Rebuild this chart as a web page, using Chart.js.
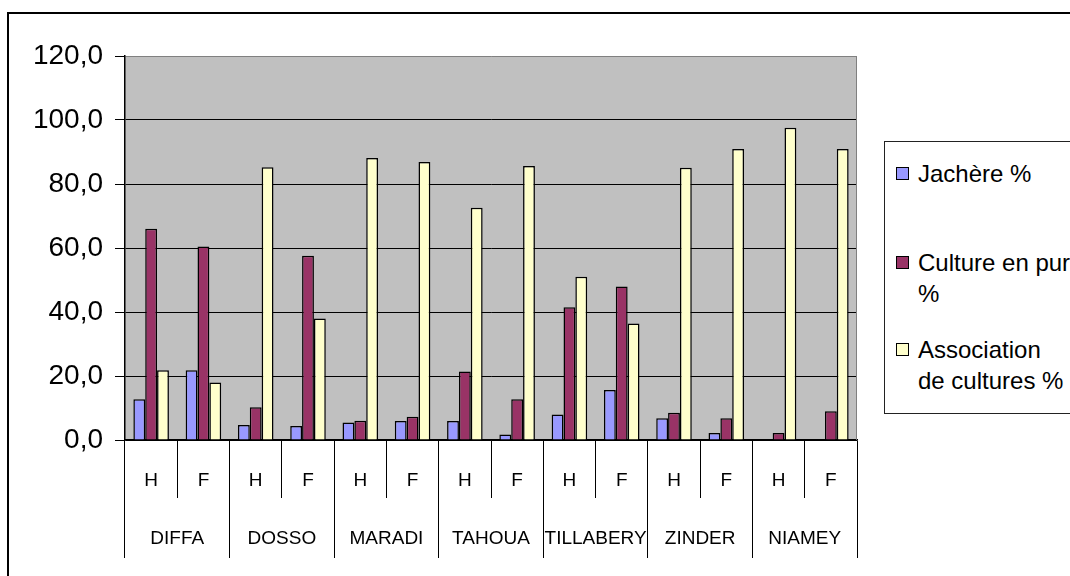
<!DOCTYPE html>
<html>
<head>
<meta charset="utf-8">
<script src="https://cdn.jsdelivr.net/npm/chart.js@4.4.0/dist/chart.umd.min.js"></script>
<style>
  html, body { margin: 0; padding: 0; background: #fff; overflow: hidden; }
  #wrap { position: relative; width: 1070px; height: 576px; overflow: hidden; }
  #frame { position: absolute; left: 7px; top: 12px; width: 1200px; height: 700px; border: 2px solid #000; }
  #chart { position: absolute; left: 0; top: 0; }
  #legend { position: absolute; left: 884px; top: 141px; width: 260px; height: 271px;
            border: 1px solid #222; background: #fff;
            font: 24px "Liberation Sans", Arial, sans-serif; color: #000; }
  .item { position: relative; padding-left: 33px; line-height: 31px; white-space: pre-line; }
  .box { position: absolute; left: 11px; top: 9px; width: 13px; height: 13px;
         border: 1.5px solid #000; box-sizing: border-box; }
</style>
</head>
<body>
<div id="wrap">
  <div id="frame"></div>
  <canvas id="chart" width="1070" height="576"></canvas>
  <div id="legend"></div>
</div>
<script>
// data
const regions = ['DIFFA', 'DOSSO', 'MARADI', 'TAHOUA', 'TILLABERY', 'ZINDER', 'NIAMEY'];
const sexes = ['H', 'F'];
const seriesNames = ['Jachère %', 'Culture en pure\n%', 'Association\nde cultures %'];
const seriesColors = ['#9999FF', '#993366', '#FFFFCC'];
const jachere = [12.7, 21.8, 4.7, 4.4, 5.5, 5.9, 5.9, 1.7, 8.0, 15.6, 6.8, 2.2, 0, 0];
const culturePure = [66.0, 60.5, 10.2, 57.6, 6.0, 7.3, 21.4, 12.7, 41.5, 48.0, 8.5, 6.8, 2.2, 9.0];
const association = [21.8, 18.0, 85.2, 38.0, 88.1, 86.9, 72.6, 85.6, 51.0, 36.4, 85.1, 90.9, 97.6, 90.9];
const yTicks = [0, 20, 40, 60, 80, 100, 120];

const sexLabels = [];
regions.forEach(() => sexes.forEach(s => sexLabels.push(s)));
const seriesValues = [jachere, culturePure, association];

const FONT = '"Liberation Sans", Arial, sans-serif';

// grey plot area + grey right border
const plotBg = {
  id: 'plotBg',
  beforeDraw(chart) {
    const {ctx, chartArea: a} = chart;
    ctx.save();
    ctx.fillStyle = '#C0C0C0';
    ctx.fillRect(a.left, a.top, a.right - a.left, a.bottom - a.top);
    ctx.restore();
  },
  beforeDatasetsDraw(chart) {
    const {ctx, chartArea: a} = chart;
    ctx.save();
    ctx.strokeStyle = '#808080';
    ctx.lineWidth = 1;
    ctx.beginPath();
    ctx.moveTo(a.right - 0.5, a.top);
    ctx.lineTo(a.right - 0.5, a.bottom);
    ctx.stroke();
    ctx.restore();
  }
};

const ctx = document.getElementById('chart');
const myChart = new Chart(ctx, {
  type: 'bar',
  data: {
    labels: sexLabels,
    datasets: seriesNames.map((name, i) => ({
      label: name,
      data: seriesValues[i],
      backgroundColor: seriesColors[i],
      borderColor: '#000',
      borderWidth: 1.5,
      categoryPercentage: 0.68,
      barPercentage: 1.0
    }))
  },
  options: {
    responsive: false,
    animation: false,
    layout: { padding: { left: 33, top: 56, right: 213, bottom: 18 } },
    plugins: { legend: { display: false }, tooltip: { enabled: false } },
    scales: {
      x: {
        type: 'category',
        position: 'bottom',
        weight: 0,
        offset: true,
        grid: { offset: true, drawOnChartArea: false, tickLength: 58, color: '#000', lineWidth: 1 },
        border: { color: '#000', width: 1.5 },
        ticks: { font: { family: FONT, size: 19 }, color: '#000', padding: -29, maxRotation: 0, autoSkip: false },
        afterFit: s => { s.height = 58; }
      },
      x2: {
        type: 'category',
        position: 'bottom',
        weight: 1,
        labels: regions,
        offset: true,
        grid: { offset: true, drawOnChartArea: false, tickLength: 60, color: '#000', lineWidth: 1 },
        border: { display: false },
        ticks: { font: { family: FONT, size: 19 }, color: '#000', padding: -31, maxRotation: 0, autoSkip: false },
        afterFit: s => { s.height = 60; }
      },
      y: {
        min: 0,
        max: 120,
        afterBuildTicks: s => { s.ticks = yTicks.map(v => ({ value: v })); },
        ticks: {
          font: { family: FONT, size: 28 },
          color: '#000',
          padding: 12,
          callback: v => v.toFixed(1).replace('.', ',')
        },
        grid: {
          color: c => (c.tick && c.tick.value === 120 ? '#808080' : '#000'),
          tickColor: '#000',
          tickLength: 10,
          lineWidth: 1
        },
        border: { color: '#000', width: 1.5 },
        afterFit: s => { s.width = 92; }
      }
    }
  },
  plugins: [plotBg]
});

// legend (html)
const legendEl = document.getElementById('legend');
const gaps = [16, 58, 25];
myChart.data.datasets.forEach((ds, i) => {
  const item = document.createElement('div');
  item.className = 'item';
  item.style.marginTop = gaps[i] + 'px';
  const box = document.createElement('span');
  box.className = 'box';
  box.style.background = ds.backgroundColor;
  item.appendChild(box);
  item.appendChild(document.createTextNode(ds.label));
  legendEl.appendChild(item);
});
</script>
</body>
</html>
